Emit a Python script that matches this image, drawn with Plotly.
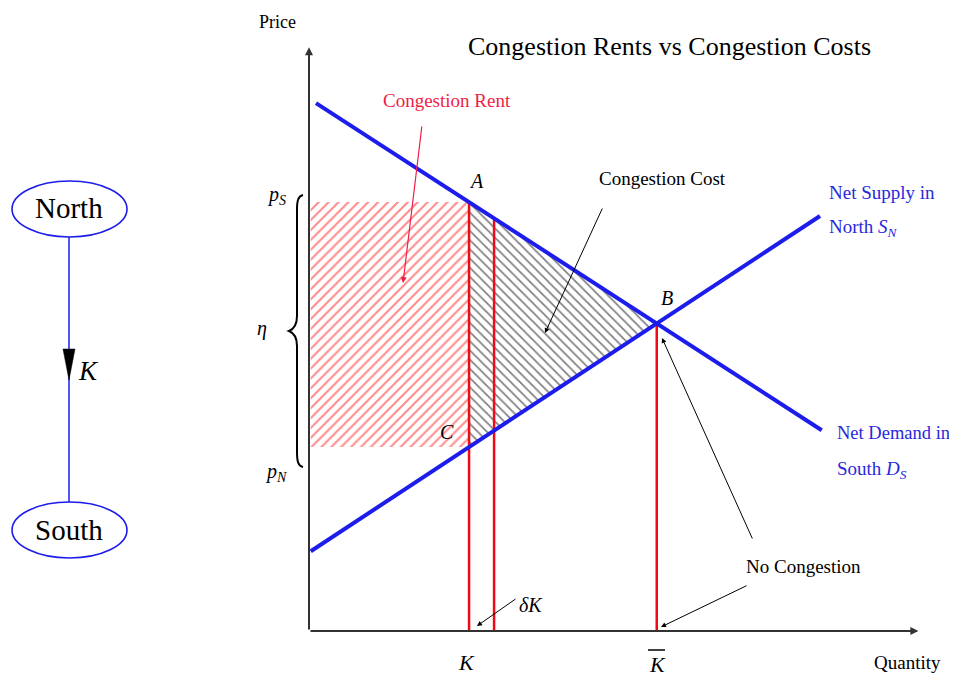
import plotly.graph_objects as go

# ---------------- data ----------------
demand_q = [0.12, 8.81]      # Net Demand in South D_S (endpoints)
demand_p = [9.07, 3.45]
supply_q = [0.03, 8.78]      # Net Supply in North S_N (endpoints)
supply_p = [1.37, 7.13]
K = 2.75                      # line capacity
dK = 0.43                     # capacity increment
hatch_left_q = 0.03
x_axis_end = 10.47
y_axis_end = 10.03

# ---------------- layout constants ----------------
PAGE_OFF = 8                      # default body margin of the html page
W, H = 957 - PAGE_OFF, 679 - PAGE_OFF
OX, OY, S = 309.0, 631.0, 58.2    # origin in window pixels, pixels per unit
SERIF = "Liberation Serif"
BLUE = "rgb(28,28,235)"
TXTBLUE = "rgb(40,40,220)"
RED = "rgb(240,10,20)"
PINK = "rgb(240,30,70)"


def d(xp, yp):
    return (xp - OX) / S, (OY - yp) / S


def lin(qs, ps, q):
    return ps[0] + (ps[1] - ps[0]) * (q - qs[0]) / (qs[1] - qs[0])


def demand(q):
    return lin(demand_q, demand_p, q)


def supply(q):
    return lin(supply_q, supply_p, q)


# intersection B
bd = (demand_p[1] - demand_p[0]) / (demand_q[1] - demand_q[0])
bs = (supply_p[1] - supply_p[0]) / (supply_q[1] - supply_q[0])
ad = demand_p[0] - bd * demand_q[0]
as_ = supply_p[0] - bs * supply_q[0]
Kbar = (as_ - ad) / (bd - bs)
pB = demand(Kbar)
pS = demand(K)
pN = supply(K)
pdK = demand(K + dK)

fig = go.Figure()

# congestion rent hatch
fig.add_trace(go.Scatter(
    x=[hatch_left_q, K, K, hatch_left_q, hatch_left_q],
    y=[pN, pN, pS, pS, pN], mode="lines", line=dict(width=0),
    fill="toself", fillcolor="rgba(255,255,255,0)",
    fillpattern=dict(shape="/", size=7, solidity=0.28, fgcolor="rgb(255,20,20)",
                     bgcolor="rgba(255,255,255,0)"),
    hoverinfo="skip", showlegend=False))

# congestion cost hatch
fig.add_trace(go.Scatter(
    x=[K, Kbar, K, K], y=[pS, pB, pN, pS], mode="lines", line=dict(width=0),
    fill="toself", fillcolor="rgba(255,255,255,0)",
    fillpattern=dict(shape="\\", size=6.5, solidity=0.26, fgcolor="rgb(0,0,0)",
                     bgcolor="rgba(255,255,255,0)"),
    hoverinfo="skip", showlegend=False))

# red vertical lines
for q, top in [(K, pS), (K + dK, pdK), (Kbar, pB)]:
    fig.add_trace(go.Scatter(x=[q, q], y=[0, top], mode="lines",
                             line=dict(color=RED, width=2.5),
                             hoverinfo="skip", showlegend=False))

# demand / supply
fig.add_trace(go.Scatter(x=demand_q, y=demand_p, mode="lines",
                         line=dict(color=BLUE, width=4), showlegend=False))
fig.add_trace(go.Scatter(x=supply_q, y=supply_p, mode="lines",
                         line=dict(color=BLUE, width=4), showlegend=False))

ann = []


def arrow(tail, head, color="black", width=1.0, hs=1.0, head_style=2):
    hx, hy = d(*head)
    tx, ty = d(*tail)
    ann.append(dict(x=hx, y=hy, ax=tx, ay=ty, xref="x", yref="y", axref="x", ayref="y",
                    text="", showarrow=True, arrowhead=head_style, arrowsize=hs,
                    arrowwidth=width, arrowcolor=color, standoff=0,
                    font=dict(family=SERIF, size=10)))


def txt(xp, yp, t, size=19, color="black", xanchor="center"):
    x, y = d(xp, yp)
    ann.append(dict(x=x, y=y, xref="x", yref="y", text=t, showarrow=False,
                    xanchor=xanchor, yanchor="middle",
                    font=dict(family=SERIF, size=size, color=color)))


# axes with arrows
for ex, ey in [(x_axis_end, 0), (0, y_axis_end)]:
    ann.append(dict(x=ex, y=ey, ax=0, ay=0, xref="x", yref="y", axref="x", ayref="y",
                    text="", showarrow=True, arrowhead=2, arrowsize=0.8, arrowwidth=2,
                    arrowcolor="rgb(50,50,50)", standoff=0,
                    font=dict(family=SERIF, size=10)))

# pointer arrows
arrow((422, 125), (403, 283), color=PINK, width=1.2)
arrow((603, 207), (545, 333))
arrow((753, 540), (662, 338))
arrow((748, 585), (661, 627))
arrow((517, 598), (477, 626))

# texts
txt(277, 22, "Price", 18)
txt(669, 46, "Congestion Rents vs Congestion Costs", 26)
txt(447, 100, "Congestion Rent", 19, PINK)
txt(662, 178, "Congestion Cost", 19)
txt(476, 181, "<i>A</i>", 20)
txt(667, 298, "<i>B</i>", 20)
txt(447, 432, "<i>C</i>", 20)
txt(827, 192, "Net Supply in", 19, TXTBLUE, "left")
txt(827, 228, "North <i>S<sub>N</sub></i>", 19, TXTBLUE, "left")
txt(835, 433, "Net Demand in", 18.5, TXTBLUE, "left")
txt(835, 470, "South <i>D<sub>S</sub></i>", 19, TXTBLUE, "left")
txt(803, 566, "No Congestion", 19)
txt(531, 605, "<i>δK</i>", 20)
txt(466, 662, "<i>K</i>", 22)
txt(657, 664, "<i>K</i>", 22)
txt(907, 662, "Quantity", 19)
txt(276, 195, "<i>p<sub>S</sub></i>", 20)
txt(276, 472, "<i>p<sub>N</sub></i>", 20)
txt(262, 328, "<i>η</i>", 20)

# left network diagram
txt(69, 208, "North", 29)
txt(69, 530, "South", 29)
txt(88, 371, "<i>K</i>", 27)

shapes = []
for cy in (209, 530):
    x0, y0 = d(12, cy + 28)
    x1, y1 = d(127, cy - 28)
    shapes.append(dict(type="circle", xref="x", yref="y", x0=x0, x1=x1, y0=y0, y1=y1,
                       line=dict(color=BLUE, width=1.6)))
lx0, ly0 = d(69, 237)
lx1, ly1 = d(69, 502)
shapes.append(dict(type="line", xref="x", yref="y", x0=lx0, y0=ly0, x1=lx1, y1=ly1,
                   line=dict(color=BLUE, width=1.5)))


def path_str(cmds):
    out = []
    for c, pts in cmds:
        s = c
        for (xp, yp) in pts:
            x, y = d(xp, yp)
            s += f" {x:.4f},{y:.4f}"
        out.append(s)
    return " ".join(out)


# arrow head on K edge
shapes.append(dict(type="path", xref="x", yref="y",
                   path=path_str([("M", [(63, 349)]), ("L", [(75, 349)]), ("L", [(69, 380)])]) + " Z",
                   fillcolor="black", line=dict(color="black", width=0.5)))

# brace
brace = path_str([
    ("M", [(303, 195)]),
    ("C", [(298, 196), (297, 201), (297, 210)]),
    ("L", [(297, 316)]),
    ("C", [(297, 325), (294, 329), (289, 331)]),
    ("C", [(294, 333), (297, 337), (297, 346)]),
    ("L", [(297, 452)]),
    ("C", [(297, 461), (298, 466), (303, 467)]),
])
shapes.append(dict(type="path", xref="x", yref="y", path=brace,
                   line=dict(color="black", width=2)))

# overline on K-bar
ox0, oy0 = d(648, 650)
ox1, oy1 = d(665, 650)
shapes.append(dict(type="line", xref="x", yref="y", x0=ox0, y0=oy0, x1=ox1, y1=oy1,
                   line=dict(color="black", width=1.5)))

# figure covers window pixels PAGE_OFF..957 and PAGE_OFF..679
xr = [(PAGE_OFF - OX) / S, (957 - OX) / S]
yr = [(OY - 679) / S, (OY - PAGE_OFF) / S]
fig.update_layout(
    width=W, height=H, autosize=False,
    margin=dict(l=0, r=0, t=0, b=0),
    paper_bgcolor="white", plot_bgcolor="white",
    xaxis=dict(range=xr, visible=False, showgrid=False, zeroline=False, fixedrange=True),
    yaxis=dict(range=yr, visible=False, showgrid=False, zeroline=False, fixedrange=True),
    annotations=ann, shapes=shapes, showlegend=False,
)
fig.write_html("out.html")
